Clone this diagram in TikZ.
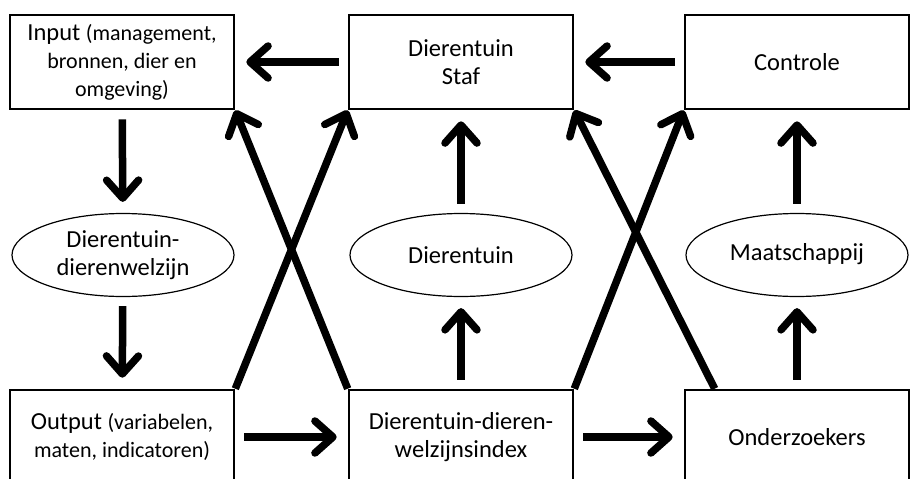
\documentclass[tikz,border=0pt]{standalone}
\usepackage{fontspec}
\setmainfont{Carlito}
\usetikzlibrary{arrows.meta,shapes.geometric}
\newcommand{\kleintekst}{\fontsize{22}{28}\selectfont}
\tikzset{
  blok/.style={draw, line width=2.6pt, minimum width=224pt, minimum height=94pt, inner sep=0pt, align=center, font=\fontsize{24.5}{28}\selectfont},
  ovaal/.style={draw, ellipse, line width=1.2pt, minimum width=222pt, minimum height=83pt, inner sep=0pt, align=center, font=\fontsize{24.5}{28}\selectfont},
  pijl/.style={line width=7.5pt, -{Straight Barb[length=18pt,width=32pt,round]}},
  kortpijl/.style={pijl, shorten <=9pt, shorten >=11pt}
}
\begin{document}
\begin{tikzpicture}[x=1pt,y=-1pt]
\clip (0,0) rectangle (910,479);
\fill[white] (0,0) rectangle (910,479);
\node[blok] (input) at (122,62) {Input {\kleintekst(management,}\\{\kleintekst bronnen, dier en}\\{\kleintekst omgeving)}};
\node[blok] (staf) at (461,62) {Dierentuin\\Staf};
\node[blok] (controle) at (797,62) {Controle};
\node[ovaal] (welzijn) at (123,255) {Dierentuin-\\dierenwelzijn};
\node[ovaal] (dierentuin) at (461,255) {Dierentuin};
\node[ovaal] (maatschappij) at (797,255) {\strut Maatschappij};
\node[blok] (output) at (122,437) {Output {\kleintekst(variabelen,}\\{\kleintekst maten, indicatoren)}};
\node[blok] (index) at (461,437) {Dierentuin-dieren-\\welzijnsindex};
\node[blok] (onderzoekers) at (797,437) {Onderzoekers};
\draw[kortpijl] (staf) -- (input);
\draw[kortpijl] (controle) -- (staf);
\draw[kortpijl] (input) -- (welzijn);
\draw[kortpijl] (welzijn) -- (output);
\draw[kortpijl] (output) -- (index);
\draw[kortpijl] (index) -- (onderzoekers);
\draw[kortpijl] (index) -- (dierentuin);
\draw[kortpijl] (dierentuin) -- (staf);
\draw[kortpijl] (onderzoekers) -- (maatschappij);
\draw[kortpijl] (maatschappij) -- (controle);
\draw[pijl] (output.north east) -- (staf.south west);
\draw[pijl] (index.north west) -- (input.south east);
\draw[pijl] (index.north east) -- (controle.south west);
\draw[pijl] ([xshift=31pt]onderzoekers.north west) -- (staf.south east);
\end{tikzpicture}
\end{document}
